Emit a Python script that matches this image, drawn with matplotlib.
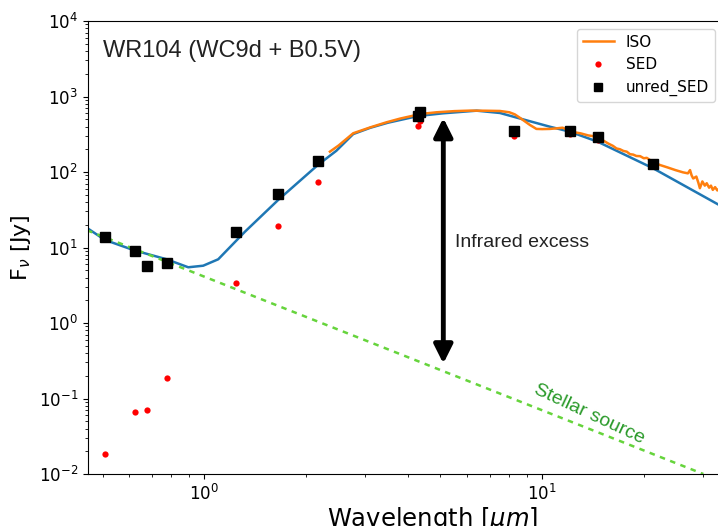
import matplotlib
matplotlib.use("Agg")
import matplotlib.pyplot as plt
from matplotlib.lines import Line2D

# ---------------- Data ----------------

sed_wl = [0.508, 0.624, 0.677, 0.776, 1.24, 1.65, 2.17, 4.30, 4.35, 8.26, 12.1, 14.6, 21.3]
sed_flux = [0.0184, 0.066, 0.070, 0.187, 3.39, 19.3, 73.8, 410, 473, 300, 318, 265, 120]
unred_flux = [13.9, 9.07, 5.69, 6.29, 16.0, 51.1, 139, 552, 623, 349, 349, 294, 128]

model_wl = [0.452, 0.508, 0.624, 0.774, 0.897, 0.993, 1.10, 1.32, 1.655, 2.17,
            2.46, 2.76, 3.1, 3.5, 4.3, 5.09, 6.40, 7.5, 8.21, 10.54, 12.08, 14.6, 21.3, 34.0]
model_flux = [17.9, 12.6, 9.1, 6.98, 5.47, 5.74, 6.98, 16.2, 42.6, 124,
              191, 318, 385, 450, 552, 599, 649, 605, 541, 398, 342, 252, 112, 35.0]

iso_wl = [2.355, 2.5, 2.76, 3.1, 3.46, 3.8, 4.15, 4.5, 4.87, 5.5, 6.11, 6.8, 7.5, 8.0,
          8.3, 8.59, 9.2, 9.62, 10.0, 10.54, 11.0, 11.5, 12.2, 13.0, 13.7, 14.5, 15.3,
          15.7, 16.2, 16.6, 17.0, 17.4, 17.8, 18.2, 18.6, 19.0, 19.5, 20.0, 20.4, 21.3,
          22.3, 23.5, 24.8, 26.1, 27.0, 27.4, 27.7, 28.0, 28.6, 29.0, 29.3, 29.8, 30.3,
          30.7, 31.2, 31.6, 32.0, 32.5, 33.0, 33.5, 34.3]
iso_flux = [186, 225, 326, 390, 455, 510, 557, 595, 618, 640, 650, 648, 643, 618,
            580, 523, 420, 372, 370, 372, 378, 386, 342, 325, 305, 294, 255,
            238, 222, 205, 200, 190, 186, 172, 170, 163, 162, 152, 154, 135,
            124, 115, 106, 99, 96, 106, 90, 82, 87, 72, 61, 75, 66,
            71, 62, 66, 58, 63, 57, 61, 60]

stellar_wl = [0.45, 30.0]
stellar_flux = [16.9, 0.01]

arrow_wl = 5.1
arrow_top = 520
arrow_bottom = 0.29

# ---------------- Plot ----------------

fig = plt.figure(figsize=(7.18, 5.26), dpi=100)
ax = fig.add_axes([87.7 / 718, 52 / 526, (723 - 87.7) / 718, 453 / 526])

ax.plot(model_wl, model_flux, color='#1f77b4', lw=1.8)
ax.plot(stellar_wl, stellar_flux, color='#66d43c', lw=1.8, ls=(0, (2.2, 2.2)))
ax.plot(iso_wl, iso_flux, color='#ff7f0e', lw=1.8)
ax.plot(sed_wl, sed_flux, 'o', color='red', ms=4.5, mec='none')
ax.plot(sed_wl, unred_flux, 's', color='black', ms=7.5)

ax.set_xscale('log')
ax.set_yscale('log')
ax.set_xlim(0.452, 34.3)
ax.set_ylim(1e-2, 1e4)
ax.spines['right'].set_visible(False)
ax.tick_params(labelsize=12)

ax.set_xlabel(r'Wavelength [$\mu m$]', fontsize=17.5, x=0.542, labelpad=1)
ax.set_ylabel(r'F$_\nu$ [Jy]', fontsize=16)

# double arrow for the infrared excess
ax.annotate('', xy=(arrow_wl, arrow_top), xytext=(arrow_wl, arrow_bottom),
            arrowprops=dict(arrowstyle='<|-|>,head_length=0.8,head_width=0.4',
                            mutation_scale=14, lw=3.5, color='black',
                            shrinkA=0, shrinkB=0))

ax.text(0.024, 0.934, 'WR104 (WC9d + B0.5V)', transform=ax.transAxes,
        fontsize=17, family='Liberation Sans', color='#222222', va='center', ha='left')
ax.text(5.52, 11.8, 'Infrared excess', fontsize=14, family='Liberation Sans',
        color='#222222', va='center', ha='left')
ax.text(13.8, 0.0624, 'Stellar source', fontsize=14, family='Liberation Sans',
        color='#2a9a2a', rotation=-25, rotation_mode='anchor', ha='center', va='center')

handles = [
    Line2D([], [], color='#ff7f0e', lw=1.8),
    Line2D([], [], color='red', marker='o', ls='none', ms=4.5, mec='none'),
    Line2D([], [], color='black', marker='s', ls='none', ms=5.5),
]
ax.legend(handles, ['ISO', 'SED', 'unred_SED'], loc='upper right', fontsize=11)

fig.savefig('out.png', dpi=100)
